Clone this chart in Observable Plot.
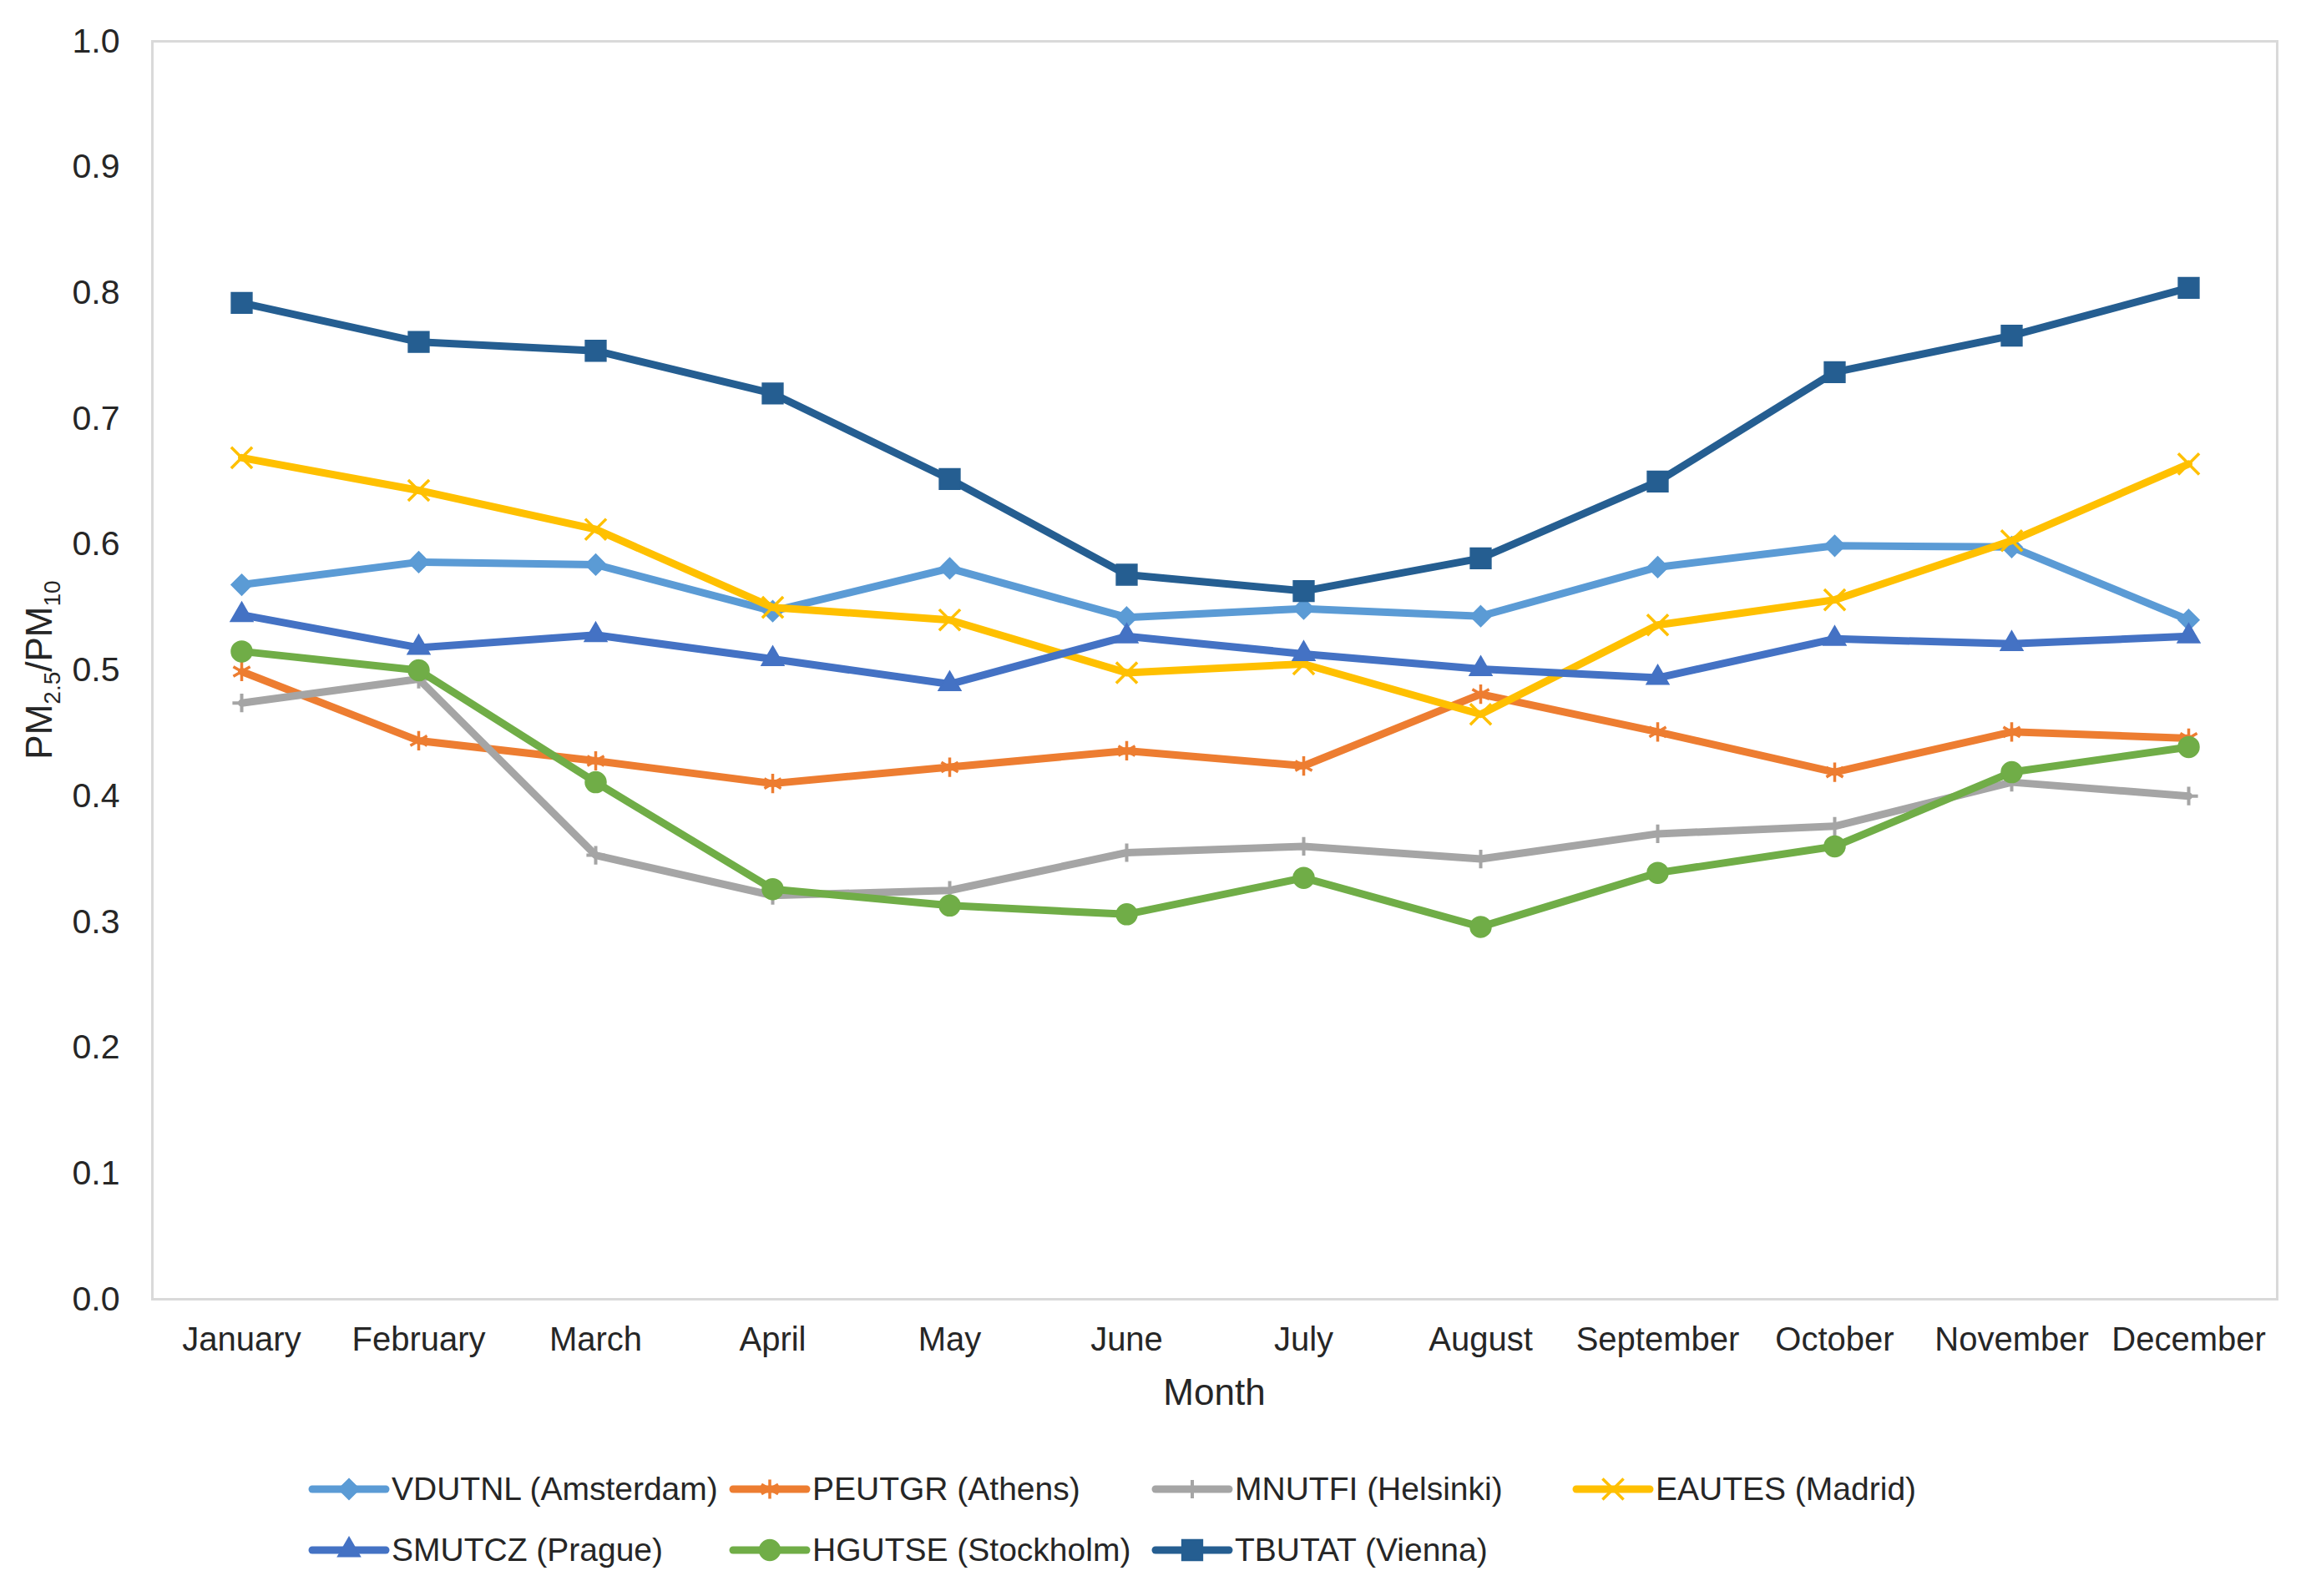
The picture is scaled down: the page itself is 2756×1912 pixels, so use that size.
<!DOCTYPE html>
<html>
<head>
<meta charset="utf-8">
<script src="https://cdn.jsdelivr.net/npm/d3@7"></script>
<script src="https://cdn.jsdelivr.net/npm/@observablehq/plot@0.6"></script>
<style>
  html, body { margin: 0; padding: 0; background: #fff; }
  #chart { position: relative; width: 2756px; height: 1912px; font-family: "Liberation Sans", Arial, sans-serif; color: #262626; }
  #legend { position: absolute; left: 369px; top: 1747px; display: grid; grid-template-columns: 504px 506px 504px 505px; grid-auto-rows: 73px; }
  .item { display: flex; align-items: center; font-size: 39px; white-space: nowrap; }
  .item svg { flex: none; margin-right: 2px; }
</style>
</head>
<body>
<div id="chart"></div>
<script>
// ---- Data ----
const months = ["January","February","March","April","May","June","July","August","September","October","November","December"];
const seriesNames = ["VDUTNL (Amsterdam)","PEUTGR (Athens)","MNUTFI (Helsinki)","EAUTES (Madrid)","SMUTCZ (Prague)","HGUTSE (Stockholm)","TBUTAT (Vienna)"];
const amsterdam = [0.568,0.586,0.584,0.547,0.581,0.542,0.549,0.543,0.582,0.599,0.598,0.540];
const athens    = [0.499,0.444,0.428,0.410,0.423,0.436,0.424,0.481,0.451,0.419,0.451,0.446];
const helsinki  = [0.474,0.493,0.353,0.321,0.325,0.355,0.360,0.350,0.370,0.376,0.411,0.400];
const madrid    = [0.669,0.643,0.612,0.550,0.540,0.498,0.505,0.465,0.536,0.556,0.603,0.664];
const prague    = [0.544,0.518,0.528,0.509,0.489,0.527,0.513,0.501,0.494,0.525,0.521,0.527];
const stockholm = [0.515,0.500,0.411,0.326,0.313,0.306,0.335,0.296,0.339,0.360,0.419,0.439];
const vienna    = [0.792,0.761,0.754,0.720,0.652,0.576,0.563,0.589,0.650,0.737,0.766,0.804];
const yTicks = [0.0,0.1,0.2,0.3,0.4,0.5,0.6,0.7,0.8,0.9,1.0];

// ---- Styles ----
const seriesValues = [amsterdam, athens, helsinki, madrid, prague, stockholm, vienna];
const colors  = ["#5B9BD5","#ED7D31","#A5A5A5","#FFC000","#4472C4","#70AD47","#255E91"];
const symbols = ["diamond2","asterisk","plus","times","triangle","circle","square"];
const d3symbols = [d3.symbolDiamond2, d3.symbolAsterisk, d3.symbolPlus, d3.symbolTimes, d3.symbolTriangle, d3.symbolCircle, d3.symbolSquare];
const radii   = [11.3, 11, 7.2, 11.5, 10, 12.5, 14];
const filled  = [true, false, false, false, true, true, true];
const markerStroke = [1.5, 3.5, 4, 3.5, 1.5, 1.5, 1.5];

const rows = [];
seriesNames.forEach((name, j) => months.forEach((m, i) => rows.push({series: name, month: m, value: seriesValues[j][i]})));

const W = 2756, H = 1720;
const mL = 182, mR = 29, mT = 49, mB = 164;

const seriesMarks = [];
seriesNames.forEach((name, j) => {
  const data = rows.filter(d => d.series === name);
  seriesMarks.push(Plot.line(data, {x: "month", y: "value", stroke: colors[j], strokeWidth: 9, strokeLinejoin: "round", strokeLinecap: "round"}));
  seriesMarks.push(Plot.dot(data, {x: "month", y: "value", symbol: symbols[j], r: radii[j],
    fill: filled[j] ? colors[j] : "none", stroke: colors[j], strokeWidth: markerStroke[j]}));
});

const plot = Plot.plot({
  width: W, height: H,
  marginLeft: mL, marginRight: mR, marginTop: mT, marginBottom: mB,
  style: {fontFamily: "'Liberation Sans', Arial, sans-serif", fontSize: "40px", color: "#262626", background: "#fff"},
  x: {type: "point", domain: months, padding: 0.5},
  y: {domain: [0, 1]},
  marks: [
    Plot.frame({stroke: "#d9d9d9", strokeWidth: 3}),
    Plot.axisY({ticks: yTicks, tickSize: 0, tickPadding: 39, tickFormat: d => d.toFixed(1), label: null, fontSize: 41}),
    Plot.axisX({tickSize: 0, tickPadding: 33, label: null, fontSize: 40}),
    ...seriesMarks
  ]
});

document.getElementById("chart").appendChild(plot);

// Axis titles
const svg = d3.select(plot);
svg.append("text")
  .attr("x", (mL + W - mR) / 2).attr("y", H - mB + 127)
  .attr("text-anchor", "middle").attr("font-size", 44).attr("fill", "#262626")
  .text("Month");

const yt = svg.append("text")
  .attr("transform", `translate(62,${(mT + H - mB) / 2}) rotate(-90)`)
  .attr("text-anchor", "middle").attr("font-size", 44).attr("fill", "#262626");
yt.append("tspan").text("PM");
yt.append("tspan").attr("font-size", 28).attr("dy", 10).text("2.5");
yt.append("tspan").attr("dy", -10).text("/PM");
yt.append("tspan").attr("font-size", 28).attr("dy", 10).text("10");

// Legend
const legend = d3.select("#chart").append("div").attr("id", "legend");
seriesNames.forEach((name, j) => {
  const item = legend.append("div").attr("class", "item");
  const s = item.append("svg").attr("width", 98).attr("height", 40);
  s.append("line").attr("x1", 5).attr("x2", 93).attr("y1", 20).attr("y2", 20)
    .attr("stroke", colors[j]).attr("stroke-width", 9).attr("stroke-linecap", "round");
  s.append("path")
    .attr("transform", "translate(49,20)")
    .attr("d", d3.symbol(d3symbols[j], Math.PI * radii[j] * radii[j])())
    .attr("fill", filled[j] ? colors[j] : "none")
    .attr("stroke", colors[j]).attr("stroke-width", markerStroke[j]);
  item.append("span").text(name);
});
</script>
</body>
</html>
